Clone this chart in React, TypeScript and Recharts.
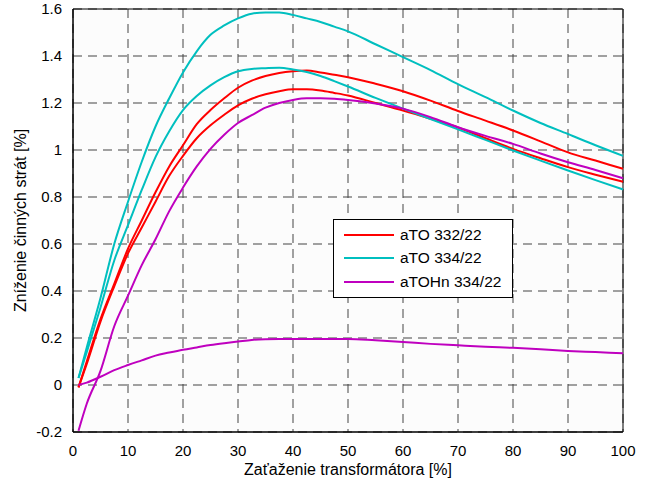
import { LineChart, Line, XAxis, YAxis, CartesianGrid, ReferenceArea } from 'recharts';

// load [%]
const load = [1, 2.5, 5, 7.5, 10, 12.5, 15, 17.5, 20, 22.5, 25, 27.5, 30, 32.5, 35, 37.5, 40, 42.5, 45, 47.5, 50, 55, 60, 65, 70, 75, 80, 85, 90, 95, 100];

// aTO 332/22
const red1 = [-0.01, 0.1, 0.28, 0.43, 0.58, 0.7, 0.82, 0.93, 1.02, 1.11, 1.17, 1.22, 1.265, 1.295, 1.315, 1.328, 1.335, 1.338, 1.33, 1.32, 1.31, 1.282, 1.25, 1.21, 1.166, 1.125, 1.083, 1.037, 0.99, 0.955, 0.92];
const red2 = [-0.01, 0.09, 0.27, 0.42, 0.56, 0.67, 0.78, 0.89, 0.975, 1.05, 1.105, 1.15, 1.19, 1.218, 1.237, 1.25, 1.258, 1.258, 1.253, 1.243, 1.232, 1.2, 1.168, 1.133, 1.096, 1.05, 1.005, 0.965, 0.927, 0.895, 0.865];

// aTO 334/22
const cyan1 = [0.03, 0.16, 0.37, 0.6, 0.78, 0.95, 1.1, 1.22, 1.33, 1.42, 1.49, 1.53, 1.56, 1.58, 1.585, 1.585, 1.575, 1.56, 1.545, 1.525, 1.505, 1.45, 1.395, 1.34, 1.28, 1.225, 1.168, 1.115, 1.068, 1.02, 0.975];
const cyan2 = [0.03, 0.14, 0.33, 0.53, 0.68, 0.83, 0.97, 1.08, 1.17, 1.23, 1.275, 1.31, 1.335, 1.345, 1.348, 1.35, 1.343, 1.332, 1.315, 1.293, 1.27, 1.222, 1.176, 1.132, 1.088, 1.043, 0.998, 0.955, 0.913, 0.872, 0.832];

// aTOHn 334/22
const mag1 = [-0.195, -0.08, 0.06, 0.25, 0.38, 0.51, 0.62, 0.74, 0.84, 0.93, 1.005, 1.065, 1.115, 1.148, 1.18, 1.2, 1.213, 1.22, 1.22, 1.218, 1.213, 1.198, 1.176, 1.14, 1.097, 1.06, 1.026, 0.985, 0.948, 0.915, 0.88];
const mag2 = [0.0, 0.01, 0.035, 0.063, 0.085, 0.105, 0.125, 0.138, 0.15, 0.16, 0.17, 0.178, 0.185, 0.192, 0.195, 0.196, 0.196, 0.196, 0.196, 0.196, 0.196, 0.19, 0.183, 0.175, 0.169, 0.163, 0.158, 0.152, 0.145, 0.14, 0.135];

const xTicks = [0, 10, 20, 30, 40, 50, 60, 70, 80, 90, 100];
const yTicks = [-0.2, 0, 0.2, 0.4, 0.6, 0.8, 1, 1.2, 1.4, 1.6];

const legendItems = [
  { name: 'aTO 332/22', color: '#ff0000' },
  { name: 'aTO 334/22', color: '#00bfbf' },
  { name: 'aTOHn 334/22', color: '#bf00bf' },
];

const data = load.map((x, i) => ({
  x,
  r1: red1[i],
  r2: red2[i],
  c1: cyan1[i],
  c2: cyan2[i],
  m1: mag1[i],
  m2: mag2[i],
}));

const font = '"Liberation Sans", Arial, sans-serif';
const tickStyle = { fontSize: 15, fill: '#000', fontFamily: font };
const labelStyle = { fontSize: 16, fill: '#000', fontFamily: font };

// legend is an overlay so recharts doesn't reserve space for it
function LegendBox() {
  return (
    <div
      style={{
        position: 'absolute',
        left: 333,
        top: 219,
        border: '1px solid #000',
        background: '#fff',
        width: 178,
        padding: '3px 0',
        fontFamily: font,
        fontSize: 15.5,
        color: '#000',
      }}
    >
      {legendItems.map((it) => (
        <div key={it.name} style={{ display: 'flex', alignItems: 'center', height: 23.5 }}>
          <div style={{ width: 50, height: 2, background: it.color, marginLeft: 10, marginRight: 6 }} />
          <span>{it.name}</span>
        </div>
      ))}
    </div>
  );
}

export default function App() {
  return (
    <div style={{ position: 'relative', width: 646, height: 483, background: '#fff' }}>
      <style>{`body{margin:0}`}</style>
      <LineChart width={646} height={483} data={data} margin={{ top: 9, right: 23, bottom: 0, left: 0 }}>
        <CartesianGrid
          stroke="#444"
          strokeDasharray="9 6"
          fill="#fcfcfc"
          horizontalValues={yTicks}
          verticalValues={xTicks}
        />
        <XAxis
          dataKey="x"
          type="number"
          domain={[0, 100]}
          ticks={xTicks}
          height={51}
          tickLine={false}
          tickMargin={7}
          axisLine={{ stroke: '#000' }}
          tick={tickStyle}
          label={{
            value: 'Zaťaženie transformátora [%]',
            position: 'insideBottom',
            offset: 8,
            style: labelStyle,
          }}
        />
        <YAxis
          type="number"
          domain={[-0.2, 1.6]}
          ticks={yTicks}
          width={73}
          tickLine={false}
          tickMargin={5}
          axisLine={{ stroke: '#000' }}
          tick={tickStyle}
          tickFormatter={(v: number) => String(Math.round(v * 10) / 10)}
          label={{
            value: 'Zníženie činných strát [%]',
            angle: -90,
            position: 'insideLeft',
            offset: 20,
            style: { ...labelStyle, textAnchor: 'middle' },
          }}
        />
        <ReferenceArea x1={0} x2={100} y1={-0.2} y2={1.6} stroke="#000" fill="none" fillOpacity={0} />
        <Line type="monotone" dataKey="r1" stroke="#ff0000" strokeWidth={2} dot={false} isAnimationActive={false} />
        <Line type="monotone" dataKey="r2" stroke="#ff0000" strokeWidth={2} dot={false} isAnimationActive={false} />
        <Line type="monotone" dataKey="c1" stroke="#00bfbf" strokeWidth={2} dot={false} isAnimationActive={false} />
        <Line type="monotone" dataKey="c2" stroke="#00bfbf" strokeWidth={2} dot={false} isAnimationActive={false} />
        <Line type="monotone" dataKey="m1" stroke="#bf00bf" strokeWidth={2} dot={false} isAnimationActive={false} />
        <Line type="monotone" dataKey="m2" stroke="#bf00bf" strokeWidth={2} dot={false} isAnimationActive={false} />
      </LineChart>
      <LegendBox />
    </div>
  );
}
